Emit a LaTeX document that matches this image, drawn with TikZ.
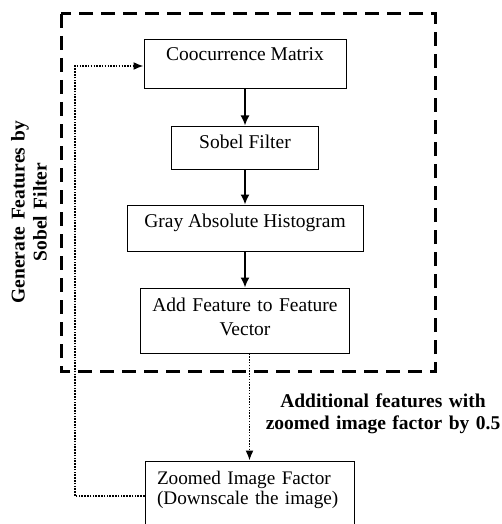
\documentclass[tikz,border=0pt]{standalone}
\usepackage{fontspec}
\setmainfont{Liberation Serif}
\usepackage{tikz}
\usetikzlibrary{positioning}
\usetikzlibrary{arrows.meta}

\begin{document}
\begin{tikzpicture}[x=1pt,y=-1pt,
  box/.style={draw, line width=1pt, inner sep=0pt, anchor=base, font=\fontsize{19.5}{24}\selectfont},
  flow/.style={line width=1.6pt, -{Latex[length=10pt,width=9pt]}},
  dotflow/.style={line width=1.6pt, dash pattern=on 1.5pt off 1.3pt, -{Latex[length=10pt,width=8pt]}},
  frame/.style={line width=3pt, dash pattern=on 14pt off 8pt},
  caption/.style={font=\fontsize{19.5}{22}\selectfont\bfseries, align=center}]
\useasboundingbox (0,0) rectangle (502,524);

\draw[frame] (61,14) rectangle (435,371);

\node[box, minimum width=202pt, text height=21pt, text depth=28pt] (cooc) at (245,61) {Coocurrence Matrix};
\node[box, minimum width=147pt, text height=22pt, text depth=21pt] (sobel) at (245,148) {Sobel Filter};
\node[box, minimum width=236pt, text height=22pt, text depth=24pt] (hist) at (245,227) {Gray Absolute Histogram};
\node[box, text width=209pt, align=center, text height=23pt, text depth=42pt] (addfeat) at (245,311) {Add Feature to Feature\\Vector};
\node[box, text width=185pt, inner xsep=12pt, align=left, text height=23pt, text depth=47pt,
  font=\fontsize{19.2}{20}\selectfont] (zoom) at (249.5,484) {Zoomed Image Factor\\\mbox{(Downscale the image)}};

\node[caption, rotate=90, text width=200pt] (gennote) at (29,212) {Generate Features by\\Sobel Filter};
\node[caption, anchor=base, text width=260pt] (addnote) at (383,407) {Additional features with\\zoomed image factor by 0.5};

\draw[flow] (cooc) -- (sobel);
\draw[flow] (sobel) -- (hist);
\draw[flow] (hist) -- (addfeat);

\coordinate (turn) at (75,66);
\draw[dotflow] (addfeat.south -| zoom.north) -- (zoom.north);
\draw[dotflow] (zoom.west) -| (turn) -- (cooc.west |- turn);
\end{tikzpicture}
\end{document}
